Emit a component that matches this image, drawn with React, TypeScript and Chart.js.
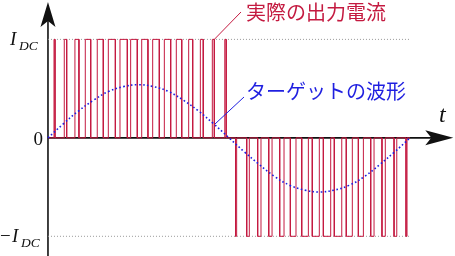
import React, { useEffect, useRef } from "react";
import { Chart, registerables } from "chart.js";

Chart.register(...registerables);

// Phase (degrees) of pulse rising / falling edges, positive half-cycle
const posStarts = [6, 16.2, 26.8, 37.1, 49, 60, 71.6, 82.2, 93.2, 104.1, 115.7, 127.6, 139.9, 151.5, 163.4, 175.8];
const posEnds = [7, 18.6, 30.8, 42.5, 55, 67, 78.9, 88.8, 99.4, 110.7, 122, 133, 143.9, 154.4, 165.4, 177.2];
// negative half-cycle
const negStarts = [186.5, 197.6, 208.5, 219.5, 230.4, 241, 252.3, 262.8, 273.8, 284.7, 296.6, 308.6, 320.9, 332.1, 344.1, 356];
const negEnds = [187.6, 200.2, 211.8, 222.8, 234.7, 246.6, 258.9, 269.8, 281.1, 292.1, 302.6, 313.6, 324.2, 335.4, 346.8, 357];

// Target waveform read every 15 degrees
const targetPhase = [0, 15, 30, 45, 60, 75, 90, 105, 120, 135, 150, 165, 180, 195, 210, 225, 240, 255, 270, 285, 300, 315, 330, 345, 360];
const targetValue = [0, 0.14, 0.27, 0.38, 0.47, 0.52, 0.54, 0.52, 0.47, 0.38, 0.27, 0.14, 0, -0.14, -0.27, -0.39, -0.48, -0.53, -0.55, -0.53, -0.48, -0.39, -0.27, -0.14, 0];

const levelIDC = 1;
const periodEnd = 360;
const yTickLabels = ["I", "0", "−I"];

const RED = "#c41a40";
const BLUE = "#1f1fe0";

export default function App() {
  const ref = useRef<HTMLCanvasElement | null>(null);

  useEffect(() => {
    if (!ref.current) return;

    const pwm: { x: number; y: number }[] = [{ x: 0, y: 0 }];
    posStarts.forEach((s, i) => {
      pwm.push({ x: s, y: 0 }, { x: s, y: levelIDC }, { x: posEnds[i], y: levelIDC }, { x: posEnds[i], y: 0 });
    });
    negStarts.forEach((s, i) => {
      pwm.push({ x: s, y: 0 }, { x: s, y: -levelIDC }, { x: negEnds[i], y: -levelIDC }, { x: negEnds[i], y: 0 });
    });
    pwm.push({ x: periodEnd, y: 0 });

    const target = targetPhase.map((x, i) => ({ x, y: targetValue[i] }));

    const overlay = {
      id: "overlay",
      beforeDatasetsDraw(chart: any) {
        const ctx = chart.ctx;
        const xs = chart.scales.x;
        const ys = chart.scales.y;
        const x0 = xs.getPixelForValue(0);
        const y0 = ys.getPixelForValue(0);
        ctx.save();
        ctx.strokeStyle = "#111";
        ctx.fillStyle = "#111";
        ctx.lineWidth = 1.6;
        // vertical axis
        const yTop = ys.getPixelForValue(1.38);
        ctx.beginPath();
        ctx.moveTo(x0, ys.getPixelForValue(-1.2));
        ctx.lineTo(x0, yTop + 18);
        ctx.stroke();
        ctx.beginPath();
        ctx.moveTo(x0, yTop);
        ctx.lineTo(x0 - 7.5, yTop + 25);
        ctx.lineTo(x0, yTop + 19);
        ctx.lineTo(x0 + 7.5, yTop + 25);
        ctx.closePath();
        ctx.fill();
        // horizontal axis
        const xEnd = xs.getPixelForValue(403);
        ctx.beginPath();
        ctx.moveTo(x0, y0);
        ctx.lineTo(xEnd - 21, y0);
        ctx.stroke();
        ctx.beginPath();
        ctx.moveTo(xEnd, y0);
        ctx.lineTo(xEnd - 28, y0 - 7.5);
        ctx.lineTo(xEnd - 22, y0);
        ctx.lineTo(xEnd - 28, y0 + 7.5);
        ctx.closePath();
        ctx.fill();
        ctx.restore();
      },
      afterDatasetsDraw(chart: any) {
        const ctx = chart.ctx;
        const xs = chart.scales.x;
        const ys = chart.scales.y;
        const x0 = xs.getPixelForValue(0);
        ctx.save();
        ctx.fillStyle = "#111";
        ctx.textBaseline = "alphabetic";
        const big = 'italic 19px "Liberation Serif", serif';
        const small = 'italic 13.5px "Liberation Serif", serif';
        // I_DC
        const yP = ys.getPixelForValue(levelIDC);
        ctx.font = big;
        ctx.textAlign = "left";
        ctx.fillText(yTickLabels[0], 10, yP + 6);
        ctx.font = small;
        ctx.fillText("DC", 19, yP + 11);
        // 0
        ctx.font = '19px "Liberation Serif", serif';
        ctx.textAlign = "right";
        ctx.fillText(yTickLabels[1], x0 - 5, ys.getPixelForValue(0) + 7);
        // -I_DC
        const yN = ys.getPixelForValue(-levelIDC);
        ctx.textAlign = "left";
        ctx.font = '19px "Liberation Serif", serif';
        ctx.fillText("−", 0, yN + 6);
        ctx.font = big;
        ctx.fillText("I", 12, yN + 6);
        ctx.font = small;
        ctx.fillText("DC", 21, yN + 11);
        // t
        ctx.font = 'italic 24px "Liberation Serif", serif';
        ctx.fillText("t", 439, ys.getPixelForValue(0) - 16);

        // annotations
        ctx.lineWidth = 1;
        ctx.strokeStyle = RED;
        ctx.beginPath();
        ctx.moveTo(241, 12);
        ctx.lineTo(xs.getPixelForValue(165.4), yP);
        ctx.stroke();
        ctx.strokeStyle = BLUE;
        ctx.beginPath();
        ctx.moveTo(244, 97);
        ctx.lineTo(215, 124);
        ctx.stroke();

        ctx.font = '20px "Noto Sans CJK JP", sans-serif';
        ctx.textBaseline = "middle";
        ctx.textAlign = "left";
        ctx.fillStyle = RED;
        ctx.fillText("実際の出力電流", 246, 12);
        ctx.fillStyle = BLUE;
        ctx.fillText("ターゲットの波形", 246, 91);
        ctx.restore();
      },
    };

    const chart = new Chart(ref.current, {
      type: "line",
      data: {
        datasets: [
          {
            data: target,
            borderColor: BLUE,
            borderWidth: 1.6,
            borderDash: [1.6, 2.4],
            pointRadius: 0,
            tension: 0.4,
            order: 0,
          } as any,
          {
            data: pwm,
            borderColor: RED,
            borderWidth: 1,
            pointRadius: 0,
            tension: 0,
            order: 1,
          },
          {
            data: [{ x: 0, y: levelIDC }, { x: periodEnd, y: levelIDC }],
            borderColor: "#999",
            borderWidth: 1,
            borderDash: [1, 2],
            pointRadius: 0,
            order: 2,
          },
          {
            data: [{ x: 0, y: -levelIDC }, { x: periodEnd, y: -levelIDC }],
            borderColor: "#999",
            borderWidth: 1,
            borderDash: [1, 2],
            pointRadius: 0,
            order: 2,
          },
        ],
      },
      options: {
        responsive: false,
        animation: false,
        devicePixelRatio: 1,
        layout: { padding: 0 },
        plugins: { legend: { display: false }, tooltip: { enabled: false } },
        events: [],
        scales: {
          x: { type: "linear", min: -47.7, max: 404.7, display: false },
          y: { type: "linear", min: -1.2, max: 1.4, display: false },
        },
      },
      plugins: [overlay],
    });
    return () => chart.destroy();
  }, []);

  return (
    <div style={{ position: "fixed", left: 0, top: 0, width: 455, height: 256, background: "#fff" }}>
      <canvas ref={ref} width={455} height={256} />
    </div>
  );
}
